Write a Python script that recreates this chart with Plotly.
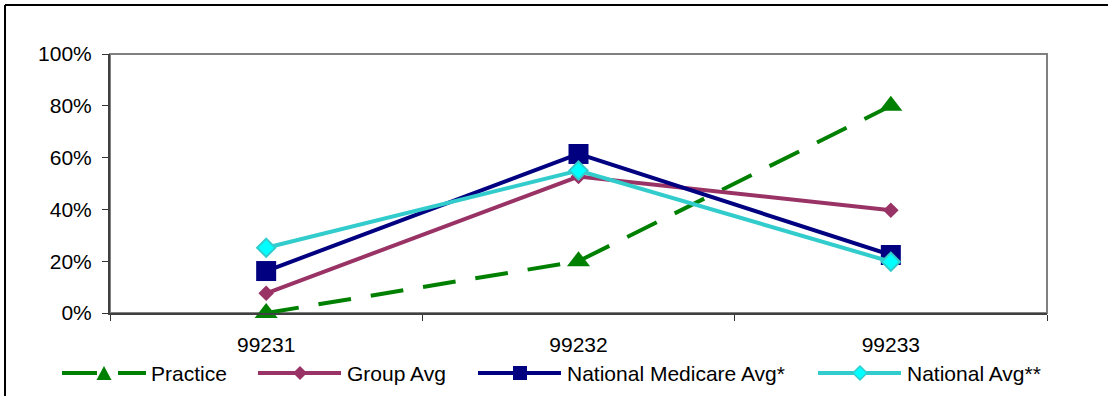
import plotly.graph_objects as go

# data (percent of visits)
codes = ["99231", "99232", "99233"]
practice = [0, 20, 80]
group_avg = [7.6, 52.7, 39.7]
medicare_avg = [16.2, 61.4, 22.4]
national_avg = [25.2, 55.0, 19.8]
y_ticks = [0, 20, 40, 60, 80, 100]
y_tick_text = [f"{v}%" for v in y_ticks]

W, H = 1108, 396
L, R, T, B = 110, 61, 54, 83
PW, PH = W - L - R, H - T - B
FS = 21


def xp(px):
    return (px - L) / PW


def yp(py):
    return (H - B - py) / PH


GREEN = "#008000"
PLUM = "#993366"
NAVY = "#000080"
TURQ = "#33CCCC"
CYAN = "#00FFFF"

fig = go.Figure()

fig.add_trace(go.Scatter(
    x=codes, y=practice, name="Practice", mode="lines+markers",
    line=dict(color=GREEN, width=4, dash="33px,20px"),
    marker=dict(symbol="triangle-up", size=20, color=GREEN),
    cliponaxis=False
))
fig.add_trace(go.Scatter(
    x=codes, y=group_avg, name="Group Avg", mode="lines+markers",
    line=dict(color=PLUM, width=4),
    marker=dict(symbol="diamond", size=12, color=PLUM),
    cliponaxis=False
))
fig.add_trace(go.Scatter(
    x=codes, y=medicare_avg, name="National Medicare Avg*", mode="lines+markers",
    line=dict(color=NAVY, width=4),
    marker=dict(symbol="square", size=20, color=NAVY),
    cliponaxis=False
))
fig.add_trace(go.Scatter(
    x=codes, y=national_avg, name="National Avg**", mode="lines+markers",
    line=dict(color=TURQ, width=4),
    marker=dict(symbol="diamond", size=14, color=CYAN, line=dict(color=TURQ, width=2)),
    cliponaxis=False
))

shapes = [
    # plot area border (top / right gray)
    dict(type="rect", xref="paper", yref="paper", x0=0, x1=1, y0=0, y1=1,
         line=dict(color="#808080", width=2), layer="below"),
    # outer chart frame, only top and left visible
    dict(type="line", xref="paper", yref="paper", x0=xp(5), x1=xp(W + 5), y0=yp(5), y1=yp(5),
         line=dict(color="black", width=2)),
    dict(type="line", xref="paper", yref="paper", x0=xp(5), x1=xp(5), y0=yp(5), y1=yp(H + 5),
         line=dict(color="black", width=2)),
]

# hand-built legend with long Excel-style line samples
LEG_Y = 373
legend_items = [
    ("Practice", GREEN, 62, 149),
    ("Group Avg", PLUM, 258, 345),
    ("National Medicare Avg*", NAVY, 478, 565),
    ("National Avg**", TURQ, 818, 905),
]
annotations = []
for i, (label, color, x0, tx) in enumerate(legend_items):
    cx = x0 + 42
    if i == 0:
        shapes.append(dict(type="line", xref="paper", yref="paper", x0=xp(x0), x1=xp(x0 + 35),
                           y0=yp(LEG_Y), y1=yp(LEG_Y), line=dict(color=color, width=4)))
        shapes.append(dict(type="line", xref="paper", yref="paper", x0=xp(x0 + 56), x1=xp(x0 + 84),
                           y0=yp(LEG_Y), y1=yp(LEG_Y), line=dict(color=color, width=4)))
    else:
        shapes.append(dict(type="line", xref="paper", yref="paper", x0=xp(x0), x1=xp(x0 + 83),
                           y0=yp(LEG_Y), y1=yp(LEG_Y), line=dict(color=color, width=4)))
    if i == 0:
        path = "M{},{} L{},{} L{},{} Z".format(
            xp(cx - 7.5), yp(LEG_Y + 7), xp(cx + 7.5), yp(LEG_Y + 7), xp(cx), yp(LEG_Y - 7))
        shapes.append(dict(type="path", xref="paper", yref="paper", path=path,
                           fillcolor=GREEN, line=dict(width=0)))
    elif i == 2:
        shapes.append(dict(type="rect", xref="paper", yref="paper",
                           x0=xp(cx - 7), x1=xp(cx + 7), y0=yp(LEG_Y - 7), y1=yp(LEG_Y + 7),
                           fillcolor=NAVY, line=dict(width=0)))
    else:
        fill = PLUM if i == 1 else CYAN
        path = "M{},{} L{},{} L{},{} L{},{} Z".format(
            xp(cx - 7), yp(LEG_Y), xp(cx), yp(LEG_Y - 7), xp(cx + 7), yp(LEG_Y), xp(cx), yp(LEG_Y + 7))
        shapes.append(dict(type="path", xref="paper", yref="paper", path=path, fillcolor=fill,
                           line=dict(color=color, width=1.5 if i == 3 else 0)))
    annotations.append(dict(xref="paper", yref="paper", x=xp(tx), y=yp(LEG_Y), text=label,
                            showarrow=False, xanchor="left", yanchor="middle",
                            font=dict(size=FS, color="black")))

fig.update_layout(
    width=W, height=H,
    margin=dict(l=L, r=R, t=T, b=B),
    paper_bgcolor="white", plot_bgcolor="white",
    font=dict(family="Liberation Sans, Arial, sans-serif", size=FS, color="black"),
    showlegend=False,
    shapes=shapes,
    annotations=annotations,
    xaxis=dict(
        type="category", range=[-0.5, 2.5], tickson="boundaries",
        ticks="outside", ticklen=6, tickwidth=1, tickcolor="#333333",
        showline=True, linecolor="#404040", linewidth=2,
        showgrid=False, zeroline=False, ticklabelstandoff=12,
    ),
    yaxis=dict(
        range=[0, 100], tickmode="array", tickvals=y_ticks, ticktext=y_tick_text,
        ticks="outside", ticklen=6, tickwidth=1, tickcolor="#333333",
        showline=True, linecolor="#404040", linewidth=2,
        showgrid=False, zeroline=False, ticklabelstandoff=6,
    ),
)

# the page gets the default 8px body margin; drop it so the chart sits at the window corner
fig.write_html("out.html", config={"displayModeBar": False},
               post_script="document.body.style.margin='0';")
